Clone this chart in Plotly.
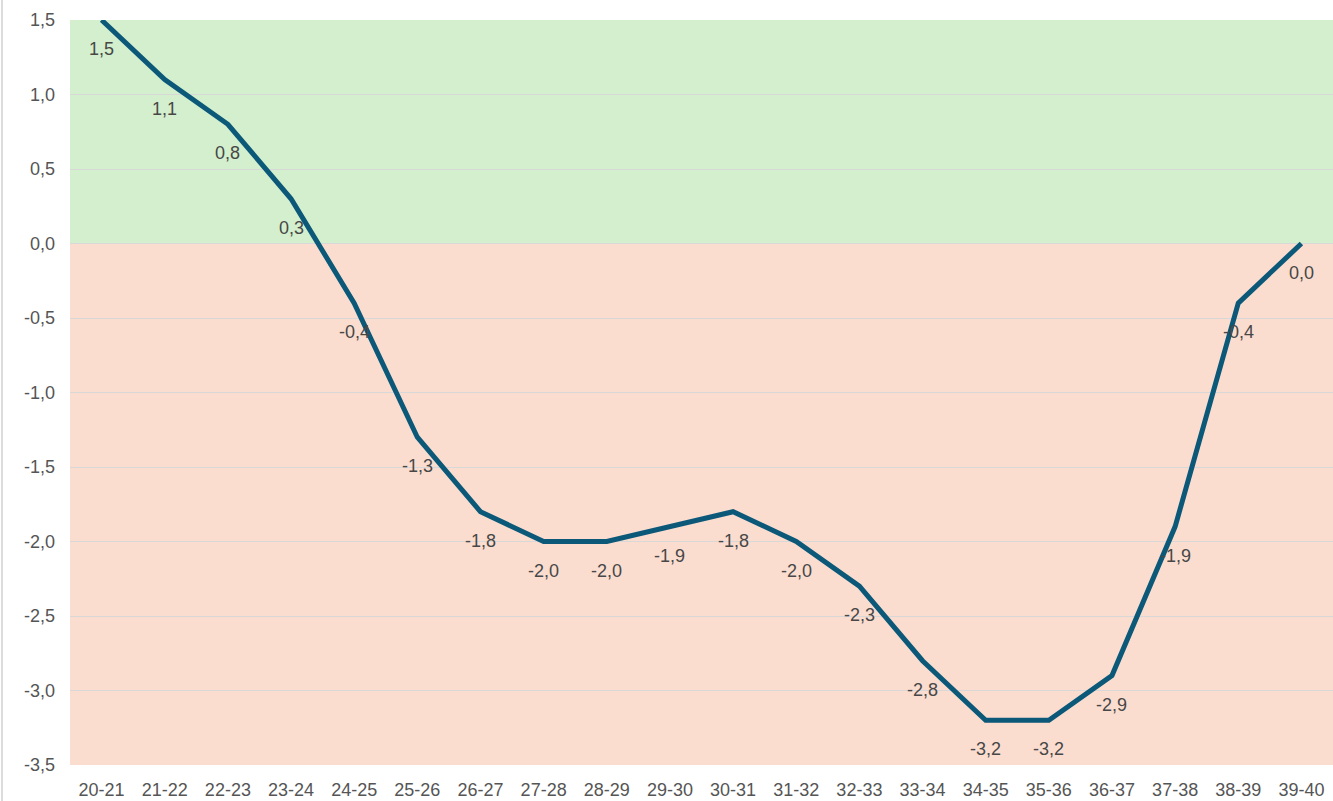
import plotly.graph_objects as go

categories = ["20-21", "21-22", "22-23", "23-24", "24-25", "25-26", "26-27", "27-28", "28-29", "29-30",
              "30-31", "31-32", "32-33", "33-34", "34-35", "35-36", "36-37", "37-38", "38-39", "39-40"]
values = [1.5, 1.1, 0.8, 0.3, -0.4, -1.3, -1.8, -2.0, -2.0, -1.9,
          -1.8, -2.0, -2.3, -2.8, -3.2, -3.2, -2.9, -1.9, -0.4, 0.0]
y_ticks = [1.5, 1.0, 0.5, 0.0, -0.5, -1.0, -1.5, -2.0, -2.5, -3.0, -3.5]
y_tick_labels = ["1,5", "1,0", "0,5", "0,0", "-0,5", "-1,0", "-1,5", "-2,0", "-2,5", "-3,0", "-3,5"]

font_family = "Liberation Sans, Arial, Helvetica, sans-serif"


def fmt(v):
    return f"{v:.1f}".replace(".", ",")


fig = go.Figure()
fig.add_trace(go.Scatter(
    x=categories, y=values, mode="lines",
    line=dict(color="#0b5878", width=5),
    hoverinfo="skip", showlegend=False, cliponaxis=False,
))

annotations = []
for c, v in zip(categories, values):
    annotations.append(dict(
        x=c, y=v, xref="x", yref="y", text=fmt(v),
        showarrow=False, yshift=-29,
        font=dict(size=18, color="#474747", family=font_family),
    ))

shapes = [
    dict(type="rect", xref="paper", yref="y", x0=0, x1=1, y0=0, y1=1.5,
         fillcolor="#d3efcd", line=dict(width=0), layer="below"),
    dict(type="rect", xref="paper", yref="y", x0=0, x1=1, y0=-3.5, y1=0,
         fillcolor="#fbddd0", line=dict(width=0), layer="below"),
    dict(type="line", xref="paper", yref="paper", x0=-68 / 1263, x1=-68 / 1263, y0=-0.06, y1=1.04,
         line=dict(color="#dcdcdc", width=2)),
]

fig.update_layout(
    width=1333, height=801,
    margin=dict(l=70, r=0, t=20, b=36, autoexpand=False),
    paper_bgcolor="white", plot_bgcolor="white",
    font=dict(family=font_family, size=18, color="#555555"),
    shapes=shapes, annotations=annotations,
    showlegend=False,
)
fig.update_xaxes(
    type="category", range=[-0.5, len(categories) - 0.5],
    showgrid=False, zeroline=False, showline=False, ticks="",
    automargin=False, ticklabelstandoff=12,
    tickfont=dict(size=18, color="#555555"),
)
fig.update_yaxes(
    range=[-3.5, 1.5], tickvals=y_ticks, ticktext=y_tick_labels,
    showgrid=True, gridcolor="#d8d8d8", gridwidth=1, zeroline=False,
    showline=False, ticks="", ticklabelstandoff=14, automargin=False,
    tickfont=dict(size=18, color="#555555"),
)

fig.write_html(
    "out.html",
    config={"displayModeBar": False},
    post_script="document.body.style.margin='0px';document.body.style.overflow='hidden';",
)
